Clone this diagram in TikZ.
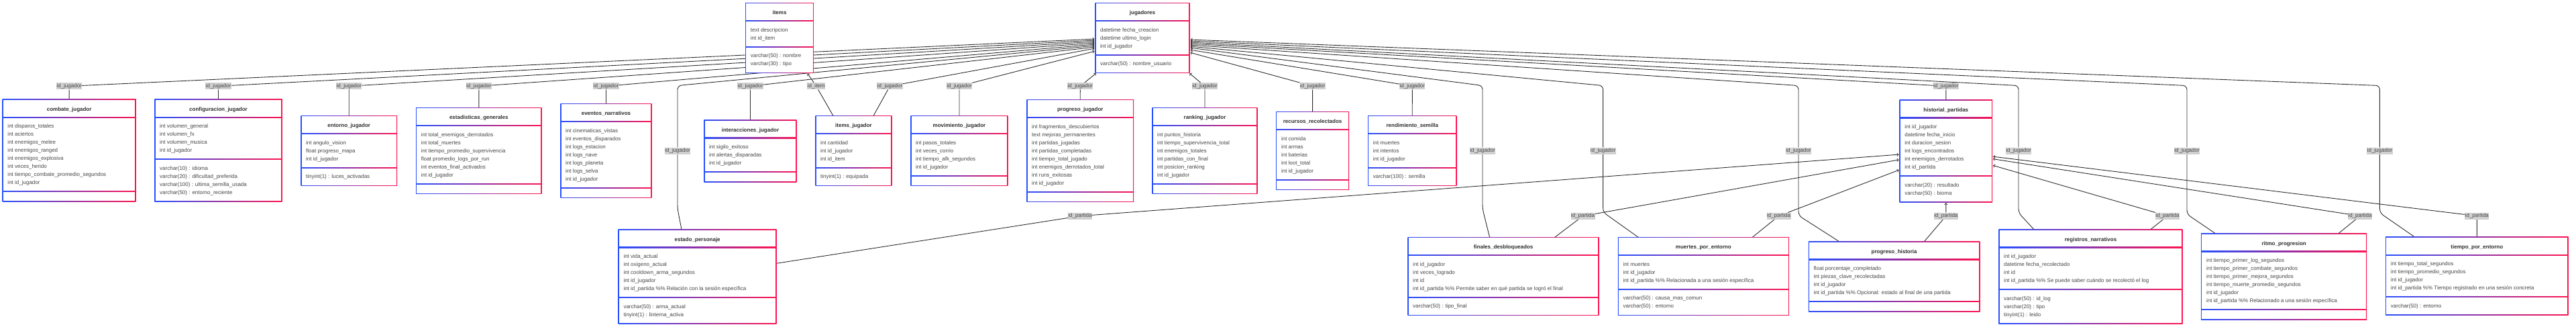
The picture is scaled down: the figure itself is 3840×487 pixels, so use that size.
\documentclass[tikz,border=0pt]{standalone}
\usepackage{fontspec}
\setmainfont{Liberation Sans}
\usepackage{tikz}
\usetikzlibrary{positioning,backgrounds}
\definecolor{umlblue}{RGB}{40,80,255}
\definecolor{umlred}{RGB}{255,20,80}
\definecolor{linegray}{RGB}{45,45,45}
\definecolor{lblgray}{RGB}{208,208,208}
\definecolor{txtgray}{RGB}{70,70,70}
\definecolor{titlegray}{RGB}{45,45,45}
\tikzstyle{rel}=[draw=linegray, line width=0.9pt, ->, shorten >=1.5pt, rounded corners=6pt]
\tikzstyle{lbl}=[fill=lblgray, text=txtgray, font=\fontsize{8}{9}\selectfont, inner xsep=0.4pt, inner ysep=1.3pt]
\tikzstyle{umltitle}=[anchor=base, inner sep=0pt, text=titlegray, font=\bfseries\fontsize{8}{9}\selectfont]
\tikzstyle{umlattr}=[anchor=base west, inner sep=0pt, text=txtgray, font=\fontsize{8}{9}\selectfont]
\tikzstyle{umlline}=[left color=umlblue, right color=umlred]
\newcommand{\umlbox}[7]{%
	\def\nattr{0}\def\nmeth{0}%
	\def\umltmpa{#6}\ifx\umltmpa\empty\else\foreach \a [count=\i] in {#6} {\xdef\nattr{\i}}\fi
	\def\umltmpm{#7}\ifx\umltmpm\empty\else\foreach \a [count=\i] in {#7} {\xdef\nmeth{\i}}\fi
	\pgfmathsetmacro\uyhead{#4+26.5}
	\pgfmathsetmacro\uydiv{\uyhead+12*\nattr+14.5}
	\pgfmathsetmacro\uybot{\uydiv+12*\nmeth+14.5}
	\pgfmathsetmacro\ubw{#3-#2}
	\pgfmathsetmacro\ubh{\uybot-#4}
	\shade[umlline] ({#2-0.6},{#4-0.6}) rectangle ({#3+0.6},{\uybot+0.6});
	\fill[white] ({#2+0.6},{#4+0.6}) rectangle ({#3-0.6},{\uybot-0.6});
	\shade[umlline] (#2,{\uyhead-0.6}) rectangle (#3,{\uyhead+0.6});
	\shade[umlline] (#2,{\uydiv-0.6}) rectangle (#3,{\uydiv+0.6});
	\node[inner sep=0pt, minimum width=\ubw pt, minimum height=\ubh pt] (#1) at ({(#2+#3)/2},{(#4+\uybot)/2}) {};
	\node[umltitle] at ({(#2+#3)/2},{#4+17}) {#5};
	\ifx\umltmpa\empty\else\foreach \a [count=\i] in {#6} {\node[umlattr] at ({#2+7},{\uyhead+16+12*(\i-1)}) {\a};}\fi
	\ifx\umltmpm\empty\else\foreach \a [count=\i] in {#7} {\node[umlattr] at ({#2+7},{\uydiv+16+12*(\i-1)}) {\a};}\fi
}

\begin{document}
\begin{tikzpicture}[x=1pt, y=-1pt]
	\useasboundingbox (0,0) rectangle (3840,487);

	\umlbox{combate}{4.3}{202}{148.3}{combate\_jugador}{int disparos\_totales, int aciertos, int enemigos\_melee, int enemigos\_ranged, int enemigos\_explosiva, int veces\_herido, int tiempo\_combate\_promedio\_segundos, int id\_jugador}{}
	\umlbox{config}{231}{420}{148.3}{configuracion\_jugador}{int volumen\_general, int volumen\_fx, int volumen\_musica, int id\_jugador}{varchar(10) : idioma, varchar(20) : dificultad\_preferida, varchar(100) : ultima\_semilla\_usada, varchar(50) : entorno\_reciente}
	\umlbox{entorno}{449}{591.5}{172.7}{entorno\_jugador}{int angulo\_vision, float progreso\_mapa, int id\_jugador}{tinyint(1) : luces\_activadas}
	\umlbox{estadisticas}{620.6}{807}{160.7}{estadisticas\_generales}{int total\_enemigos\_derrotados, int total\_muertes, int tiempo\_promedio\_supervivencia, float promedio\_logs\_por\_run, int eventos\_final\_activados, int id\_jugador}{}
	\umlbox{eventos}{836}{971}{154.7}{eventos\_narrativos}{int cinematicas\_vistas, int eventos\_disparados, int logs\_estacion, int logs\_nave, int logs\_planeta, int logs\_selva, int id\_jugador}{}
	\umlbox{interacciones}{1050}{1187}{179}{interacciones\_jugador}{int sigilo\_exitoso, int alertas\_disparadas, int id\_jugador}{}
	\umlbox{items}{1111.7}{1212.3}{4.7}{items}{text descripcion, int id\_item}{varchar(50) : nombre, varchar(30) : tipo}
	\umlbox{itemsjug}{1216}{1329}{172.7}{items\_jugador}{int cantidad, int id\_jugador, int id\_item}{tinyint(1) : equipada}
	\umlbox{movimiento}{1358}{1502}{172.7}{movimiento\_jugador}{int pasos\_totales, int veces\_corrio, int tiempo\_afk\_segundos, int id\_jugador}{}
	\umlbox{progresojug}{1531}{1689.5}{148.7}{progreso\_jugador}{int fragmentos\_descubiertos, text mejoras\_permanentes, int partidas\_jugadas, int partidas\_completadas, int tiempo\_total\_jugado, int enemigos\_derrotados\_total, int runs\_exitosas, int id\_jugador}{}
	\umlbox{jugadores}{1633}{1773}{4.7}{jugadores}{datetime fecha\_creacion, datetime ultimo\_login, int id\_jugador}{varchar(50) : nombre\_usuario}
	\umlbox{ranking}{1718}{1874}{160.7}{ranking\_jugador}{int puntos\_historia, int tiempo\_supervivencia\_total, int enemigos\_totales, int partidas\_con\_final, int posicion\_ranking, int id\_jugador}{}
	\umlbox{recursos}{1902.8}{2010.4}{166.7}{recursos\_recolectados}{int comida, int armas, int baterias, int loot\_total, int id\_jugador}{}
	\umlbox{rendimiento}{2039.6}{2170.9}{172.7}{rendimiento\_semilla}{int muertes, int intentos, int id\_jugador}{varchar(100) : semilla}
	\umlbox{historial}{2832.2}{2969.4}{149}{historial\_partidas}{int id\_jugador, datetime fecha\_inicio, int duracion\_sesion, int logs\_encontrados, int enemigos\_derrotados, int id\_partida}{varchar(20) : resultado, varchar(50) : bioma}
	\umlbox{estado}{922.3}{1157}{342}{estado\_personaje}{int vida\_actual, int oxigeno\_actual, int cooldown\_arma\_segundos, int id\_jugador, int id\_partida \%\% Relación con la sesión específica}{varchar(50) : arma\_actual, tinyint(1) : linterna\_activa}
	\umlbox{finales}{2099}{2383}{353.7}{finales\_desbloqueados}{int id\_jugador, int veces\_logrado, int id, int id\_partida \%\% Permite saber en qué partida se logró el final}{varchar(50) : tipo\_final}
	\umlbox{muertes}{2412.4}{2666.2}{353.7}{muertes\_por\_entorno}{int muertes, int id\_jugador, int id\_partida \%\% Relacionada a una sesión específica}{varchar(50) : causa\_mas\_comun, varchar(50) : entorno}
	\umlbox{proghist}{2696.4}{2950.8}{360}{progreso\_historia}{float porcentaje\_completado, int piezas\_clave\_recolectadas, int id\_jugador, int id\_partida \%\% Opcional: estado al final de una partida}{}
	\umlbox{registros}{2980}{3253}{342}{registros\_narrativos}{int id\_jugador, datetime fecha\_recolectado, int id, int id\_partida \%\% Se puede saber cuándo se recolectó el log}{varchar(50) : id\_log, varchar(20) : tipo, tinyint(1) : leido}
	\umlbox{ritmo}{3281.8}{3527.5}{348}{ritmo\_progresion}{int tiempo\_primer\_log\_segundos, int tiempo\_primer\_combate\_segundos, int tiempo\_primer\_mejora\_segundos, int tiempo\_muerte\_promedio\_segundos, int id\_jugador, int id\_partida \%\% Relacionado a una sesión específica}{}
	\umlbox{tiempo}{3556.7}{3827.9}{353.3}{tiempo\_por\_entorno}{int tiempo\_total\_segundos, int tiempo\_promedio\_segundos, int id\_jugador, int id\_partida \%\% Tiempo registrado en una sesión concreta}{varchar(50) : entorno}

	\node[lbl] (lCombate) at (103.2,128.3) {id\_jugador};
	\node[lbl] (lConfig) at (325.5,128.3) {id\_jugador};
	\node[lbl] (lEntorno) at (520.3,128.3) {id\_jugador};
	\node[lbl] (lEstad) at (713.8,128.3) {id\_jugador};
	\node[lbl] (lEventos) at (903.5,128.3) {id\_jugador};
	\node[lbl] (lEstado) at (1010,224.7) {id\_jugador};
	\node[lbl] (lInter) at (1118.5,128.3) {id\_jugador};
	\node[lbl] (lItem) at (1216.7,128.3) {id\_item};
	\node[lbl] (lItemsJug) at (1326.5,128.3) {id\_jugador};
	\node[lbl] (lMov) at (1430,128.3) {id\_jugador};
	\node[lbl] (lProgJug) at (1610.3,128.3) {id\_jugador};
	\node[lbl] (lRanking) at (1796,128.3) {id\_jugador};
	\node[lbl] (lRecursos) at (1956.6,128.3) {id\_jugador};
	\node[lbl] (lRend) at (2105.3,128.3) {id\_jugador};
	\node[lbl] (lFinales) at (2210,224.7) {id\_jugador};
	\node[lbl] (lMuertes) at (2389.6,224.7) {id\_jugador};
	\node[lbl] (lProgHist) at (2681,224.7) {id\_jugador};
	\node[lbl] (lHistorial) at (2900.8,128.3) {id\_jugador};
	\node[lbl] (lRegistros) at (3009,224.7) {id\_jugador};
	\node[lbl] (lRitmo) at (3260,224.7) {id\_jugador};
	\node[lbl] (lTiempo) at (3547.4,224.7) {id\_jugador};
	\node[lbl] (pEstado) at (1610,321.7) {id\_partida};
	\node[lbl] (pFinales) at (2359.5,321.7) {id\_partida};
	\node[lbl] (pMuertes) at (2651.5,321.7) {id\_partida};
	\node[lbl] (pProgHist) at (2900.8,321.7) {id\_partida};
	\node[lbl] (pRegistros) at (3231,321.7) {id\_partida};
	\node[lbl] (pRitmo) at (3518,321.7) {id\_partida};
	\node[lbl] (pTiempo) at (3692.3,321.7) {id\_partida};

	\begin{pgfonlayer}{background}
		\fill[white] (0,0) rectangle (3840,487);

		\draw[rel] (combate.north) -- (lCombate) -- (jugadores.west |- 0,58);
		\draw[rel] (config.north) -- (lConfig) -- (jugadores.west |- 0,60);
		\draw[rel] (entorno.north) -- (lEntorno) -- (jugadores.west |- 0,62);
		\draw[rel] (estadisticas.north) -- (lEstad) -- (jugadores.west |- 0,64);
		\draw[rel] (eventos.north) -- (lEventos) -- (jugadores.west |- 0,66);
		\draw[rel] (estado.north -| 1016,0) -- (1010,311) -- (lEstado) -- (1010,127.5) -- (jugadores.west |- 0,68);
		\draw[rel] (interacciones.north) -- (lInter) -- (jugadores.west |- 0,70);
		\draw[rel] (itemsjug.north -| 1302,0) -- (lItemsJug) -- (jugadores.west |- 0,72);
		\draw[rel] (movimiento.north) -- (lMov) -- (jugadores.west |- 0,76);
		\draw[rel] (itemsjug.north -| 1242,0) -- (lItem) -- (items.south -| 1203,0);
		\draw[rel] (progresojug.north) -- (lProgJug) -- ([xshift=2pt]jugadores.south west);
		\draw[rel] (ranking.north) -- (lRanking) -- ([xshift=-1pt]jugadores.south east);

		\draw[rel] (recursos.north) -- (lRecursos) -- (jugadores.east |- 0,78);
		\draw[rel] (rendimiento.north) -- (lRend) -- (jugadores.east |- 0,74);
		\draw[rel] (finales.north -| 2220.6,0) -- (2210,311) -- (lFinales) -- (2210,127.5) -- (jugadores.east |- 0,71);
		\draw[rel] (muertes.north -| 2442.4,0) -- (2389.6,316) -- (lMuertes) -- (2389.6,127.5) -- (jugadores.east |- 0,69);
		\draw[rel] (proghist.north -| 2741.8,0) -- (2681,321) -- (lProgHist) -- (2681,127.5) -- (jugadores.east |- 0,67);
		\draw[rel] (historial.north) -- (lHistorial) -- (jugadores.east |- 0,65);
		\draw[rel] (registros.north -| 3032,0) -- (3009,317) -- (lRegistros) -- (3009,127.5) -- (jugadores.east |- 0,63);
		\draw[rel] (ritmo.north -| 3302.5,0) -- (3260,319) -- (lRitmo) -- (3260,127.5) -- (jugadores.east |- 0,61);
		\draw[rel] (tiempo.north -| 3599.6,0) -- (3547.4,317) -- (lTiempo) -- (3547.4,127.5) -- (jugadores.east |- 0,59);

		\draw[rel] (estado.east |- 0,392.3) -- (pEstado) -- (historial.west |- 0,230);
		\draw[rel] (finales.north -| 2317.5,0) -- (pFinales) -- (historial.west |- 0,237.7);
		\draw[rel] (muertes.north -| 2612,0) -- (pMuertes) -- (historial.west |- 0,252.7);
		\draw[rel] (proghist.north -| 2868.3,0) -- (pProgHist) -- (historial.south);
		\draw[rel] (registros.north -| 3205.7,0) -- (pRegistros) -- (historial.east |- 0,246);
		\draw[rel] (ritmo.north -| 3485.7,0) -- (pRitmo) -- (historial.east |- 0,236.5);
		\draw[rel] (tiempo.north) -- (pTiempo) -- (historial.east |- 0,233);
	\end{pgfonlayer}
\end{tikzpicture}
\end{document}
